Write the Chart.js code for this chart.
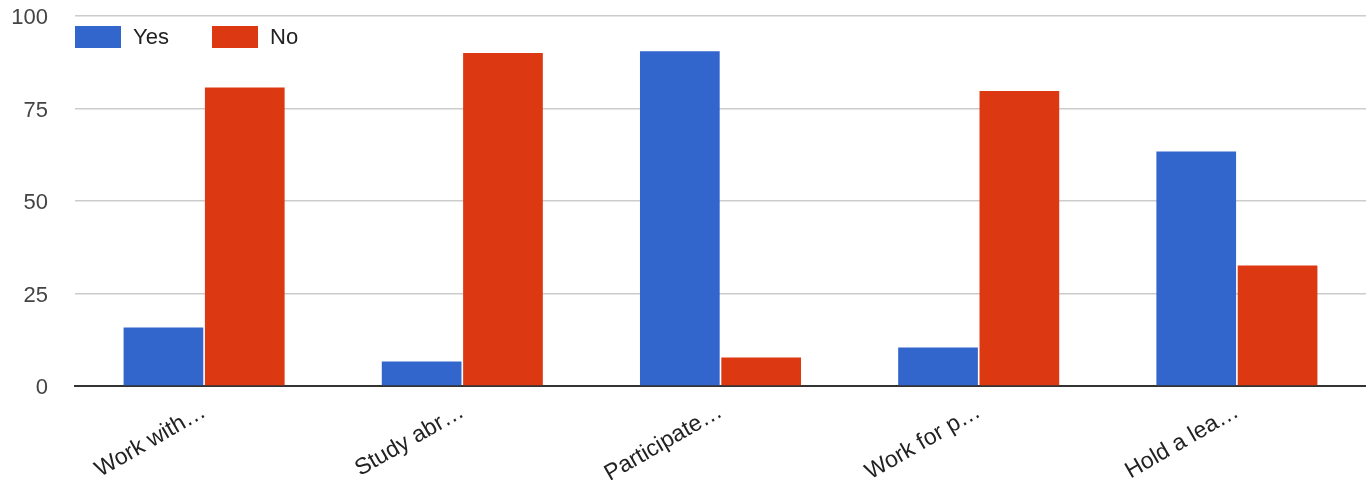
<!DOCTYPE html>
<html>
<head>
<meta charset="utf-8">
<script src="https://cdn.jsdelivr.net/npm/chart.js@4"></script>
<style>
  body { margin: 0; background: #fff; }
  #wrap { width: 1366px; height: 480px; position: relative; }
</style>
</head>
<body>
<div id="wrap"><canvas id="mychart"></canvas></div>
<script>
// --- data ---
const categories = ["Work with…", "Study abr…", "Participate…", "Work for p…", "Hold a lea…"];
const yesValues = [15.8, 6.6, 90.5, 10.4, 63.4];
const noValues = [80.7, 90.0, 7.7, 79.7, 32.6];
const yTicks = [0, 25, 50, 75, 100];

const FONT = "'Liberation Sans', Arial, sans-serif";

// legend drawn inside the plot, top-left, like the original
const insideLegend = {
  id: 'insideLegend',
  afterDraw(chart) {
    const ctx = chart.ctx;
    let x = chart.chartArea.left;
    const y = chart.chartArea.top + 10;
    ctx.save();
    ctx.font = '22px ' + FONT;
    ctx.textBaseline = 'middle';
    chart.data.datasets.forEach(ds => {
      ctx.fillStyle = ds.backgroundColor;
      ctx.fillRect(x, y, 46, 22);
      ctx.fillStyle = '#222';
      ctx.fillText(ds.label, x + 58, y + 12);
      x += 137;
    });
    ctx.restore();
  }
};

const chart = new Chart(document.getElementById('mychart').getContext('2d'), {
  type: 'bar',
  data: {
    labels: categories,
    datasets: [
      { label: 'Yes', data: yesValues, backgroundColor: '#3366cc' },
      { label: 'No', data: noValues, backgroundColor: '#dc3912' }
    ]
  },
  options: {
    responsive: true,
    maintainAspectRatio: false,
    animation: false,
    layout: { padding: 0 },
    categoryPercentage: 0.63,
    barPercentage: 0.98,
    plugins: {
      legend: { display: false },
      tooltip: { enabled: false }
    },
    scales: {
      x: {
        grid: { display: false, drawTicks: false },
        border: { display: true, color: '#333', width: 2 },
        ticks: {
          color: '#222',
          font: { family: FONT, size: 23 },
          minRotation: 30,
          maxRotation: 30,
          padding: 12,
          autoSkip: false
        },
        afterFit(scale) { scale.height = 94; }
      },
      y: {
        min: 0,
        max: 100,
        afterBuildTicks(scale) { scale.ticks = yTicks.map(v => ({ value: v })); },
        grid: { color: '#cccccc', lineWidth: 1.5, drawTicks: false },
        border: { display: false },
        ticks: {
          color: '#444',
          font: { family: FONT, size: 22 },
          padding: 27,
          labelOffset: 2
        },
        afterFit(scale) {
          scale.width = 75;
          scale.paddingTop = 16; // plot top sits at y=16 like the original
          scale.paddingBottom = 0;
        }
      }
    }
  },
  plugins: [insideLegend]
});
</script>
</body>
</html>
